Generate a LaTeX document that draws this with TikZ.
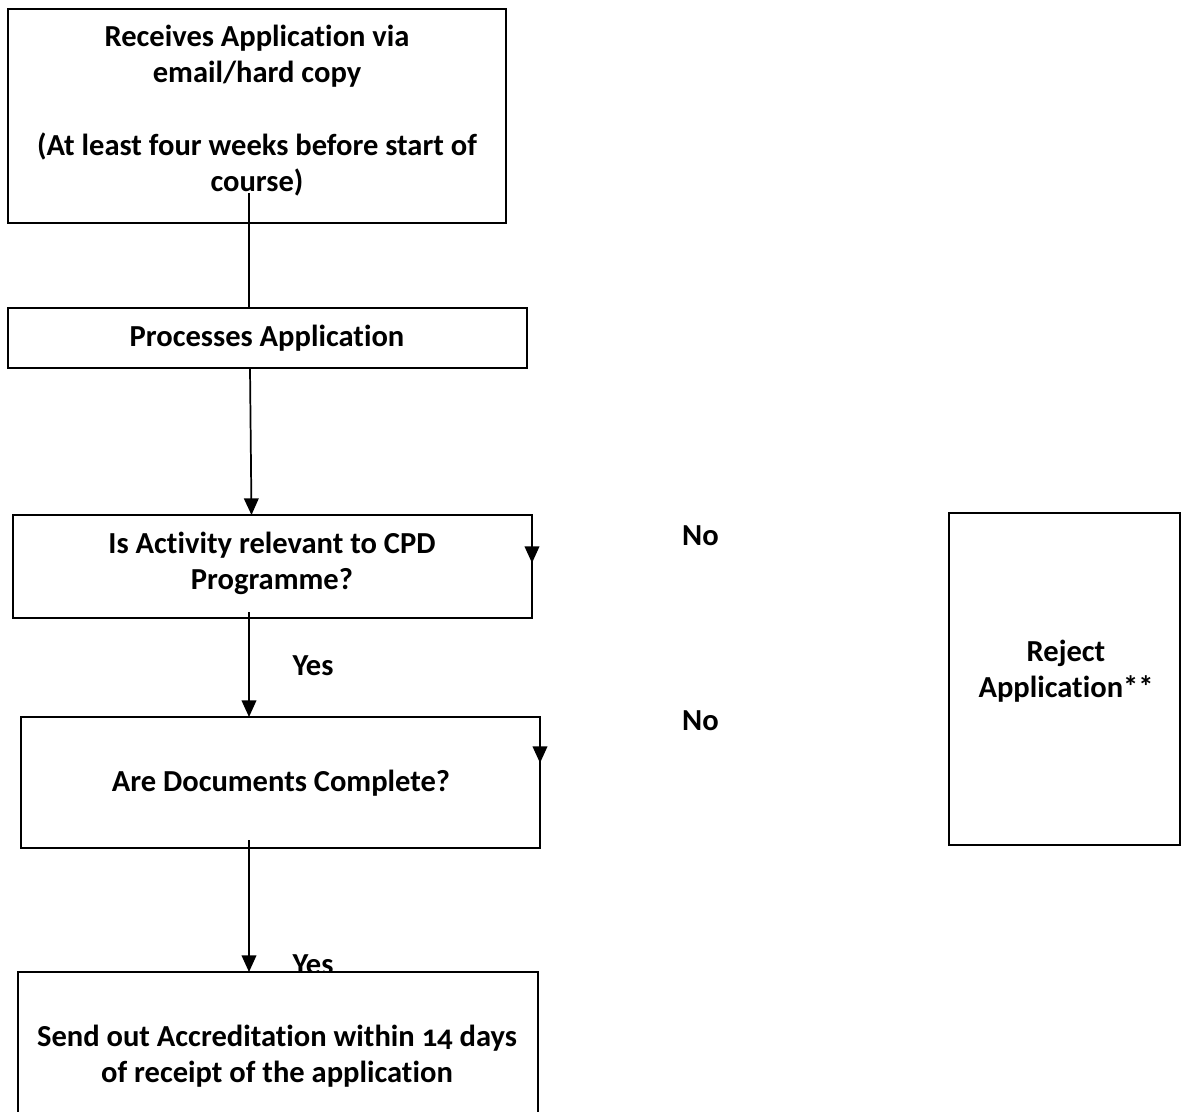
\documentclass[tikz,border=0pt]{standalone}
\usepackage{fontspec}
\setmainfont{Carlito}[Numbers=OldStyle,Ligatures=NoCommon]
\usetikzlibrary{arrows.meta}
\begin{document}
\begin{tikzpicture}[x=0.75pt,y=-0.75pt,
  box/.style={draw, line width=1.6pt, fill=white, inner sep=0pt, outer sep=0pt},
  lbl/.style={font=\fontsize{22.9}{27.2}\selectfont\bfseries, align=center, inner sep=0pt},
  conn/.style={line width=1.3pt},
  arr/.style={conn, -{Triangle[length=12.5pt,width=11pt]}}]
\useasboundingbox (0,0) rectangle (1182,1112);
\clip (0,0) rectangle (1182,1112);
% boxes
\node[box, minimum width=373.5pt, minimum height=160.5pt] (b1) at (257,116) {};
\node[box, minimum width=389.25pt, minimum height=45pt] (b2) at (267.5,338) {};
\node[box, minimum width=389.25pt, minimum height=77.25pt] (b3) at (272.5,566.5) {};
\node[box, minimum width=389.25pt, minimum height=98.25pt] (b4) at (280.5,782.5) {};
\node[box, minimum width=173.25pt, minimum height=249pt] (rj) at (1064.5,679) {};
% labels
\node[lbl] (t1) at (257,110.5) {Receives Application via\\email/hard copy\\[27.2pt](At least four weeks before start of\\course)};
\node[lbl] (t2) at (267,338) {Processes Application};
\node[lbl] (t3) at (272,563.5) {Is Activity relevant to CPD\\Programme?};
\node[lbl] (t4) at (281,783) {Are Documents Complete?};
\node[lbl] (tr) at (1066,671) {Reject\\Application**};
\node[lbl, anchor=base] (yes1) at (313,675) {Yes};
\node[lbl, anchor=base] (yes2) at (313,974) {Yes};
\node[lbl, anchor=base] (no1) at (700.5,546) {No};
\node[lbl, anchor=base] (no2) at (700.5,730) {No};
% last box covers the foot of the second Yes
\node[box, minimum width=390pt, minimum height=126pt] (b5) at (278,1056) {};
\node[lbl] (t5) at (277,1056.5) {Send out Accreditation within 14 days\\of receipt of the application};
% connectors
\coordinate (c1s) at (249,193);
\draw[conn] (c1s) -- (c1s |- b2.north);
\coordinate (a2s) at (250,368);
\coordinate (a2e) at (251.5,515);
\draw[arr] (a2s) -- (a2e);
\coordinate (a3s) at (249,612);
\draw[arr] (a3s) -- (a3s |- b4.north);
\coordinate (a4s) at (249,840);
\draw[arr] (a4s) -- (a4s |- b5.north);
\coordinate (r3) at (532,563);
\draw[arr] (b3.north east) -- (r3);
\coordinate (r4) at (540,763);
\draw[arr] (b4.north east) -- (r4);
\end{tikzpicture}
\end{document}
